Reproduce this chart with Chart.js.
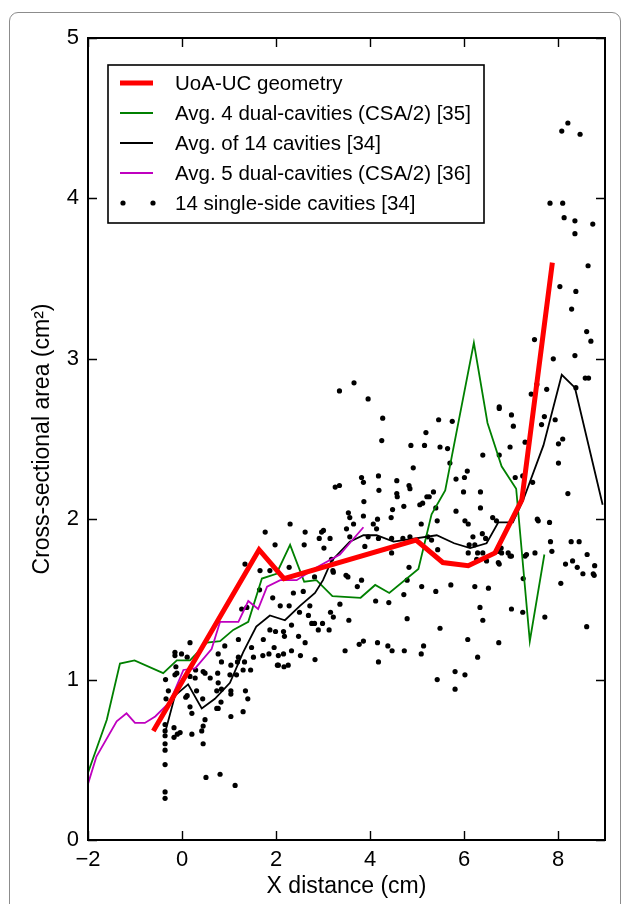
<!DOCTYPE html>
<html>
<head>
<meta charset="utf-8">
<script src="https://cdn.jsdelivr.net/npm/chart.js@4.4.1/dist/chart.umd.min.js"></script>
<style>
  html, body { margin: 0; padding: 0; background: #fff; }
  #wrap { position: relative; width: 627px; height: 904px; overflow: hidden; }
  #frame {
    position: absolute; left: 9px; top: 12px; width: 612px; height: 980px;
    border: 1.5px solid #8c8c8c; border-radius: 9px; box-sizing: border-box;
  }
  #stage { position: absolute; left: 0; top: 0; }
</style>
</head>
<body>
<div id="wrap">
  <div id="frame"></div>
  <canvas id="stage" width="627" height="904"></canvas>
</div>
<script>
// 断面積データ (cm²) と X 位置 (cm)

const xTicks = [-2, 0, 2, 4, 6, 8];
const yTicks = [0, 1, 2, 3, 4, 5];

// UoA-UC geometry
const uoaX = [-0.61, 1.64, 2.17, 4.98, 5.55, 6.09, 6.66, 7.23, 7.88];
const uoaY = [0.68, 1.81, 1.63, 1.87, 1.73, 1.71, 1.79, 2.12, 3.60];

// Avg. 4 dual-cavities (CSA/2) [35]
const dual4X = [-2.0, -1.6, -1.32, -1.01, -0.40, -0.11, 0.17, 0.53, 0.81, 1.09, 1.41, 1.70, 2.01, 2.30, 2.60, 2.86,
  3.20, 3.80, 4.11, 4.41, 5.03, 5.31, 5.60, 6.21, 6.50, 6.80, 7.11, 7.40, 7.71];
const dual4Y = [0.42, 0.75, 1.10, 1.12, 1.04, 1.12, 1.12, 1.23, 1.24, 1.31, 1.36, 1.63, 1.66, 1.84, 1.61, 1.62,
  1.52, 1.51, 1.59, 1.54, 1.69, 2.03, 2.18, 3.10, 2.60, 2.33, 2.19, 1.24, 1.78];

// Avg. of 14 cavities [34]
const avg14X = [-0.35, -0.15, 0.13, 0.42, 0.70, 1.02, 1.30, 1.58, 1.87, 2.19, 2.51, 2.83, 3.00, 3.18, 3.57, 3.86,
  4.14, 4.50, 5.42, 5.79, 6.13, 6.48, 6.73, 7.04, 7.26, 7.69, 8.08, 8.36, 8.95];
const avg14Y = [0.68, 0.90, 0.97, 0.82, 0.88, 0.98, 1.17, 1.33, 1.40, 1.37, 1.46, 1.54, 1.62, 1.74, 1.86, 1.90,
  1.90, 1.86, 1.90, 1.85, 1.82, 1.85, 1.98, 1.98, 2.12, 2.46, 2.90, 2.82, 2.09];

// Avg. 5 dual-cavities (CSA/2) [36]
const dual5X = [-2.0, -1.82, -1.39, -1.18, -1.0, -0.79, -0.57, -0.26, 0.03, 0.28, 0.63, 0.81, 1.20, 1.41, 1.62,
  1.81, 2.09, 2.44, 2.87, 3.36, 3.86];
const dual5Y = [0.35, 0.52, 0.74, 0.79, 0.73, 0.73, 0.77, 0.86, 1.06, 1.07, 1.19, 1.36, 1.36, 1.49, 1.44,
  1.58, 1.62, 1.62, 1.70, 1.78, 1.95];

// 14 single-side cavities [34]  [x, y]
const cavityXY = [
  [0.17,1.23],[-0.15,1.17],[-0.15,1.15],[-0.01,1.16],[0.11,1.14],[-0.13,1.08],[-0.11,1.04],[-0.15,1.03],
  [-0.35,1.00],[0.29,1.06],[0.45,1.05],[0.49,1.04],[0.77,1.16],[0.84,1.11],[0.91,1.21],[1.04,1.09],
  [1.20,1.25],[1.20,1.14],[1.18,1.11],[1.33,1.11],[1.48,1.20],[1.52,1.14],[1.46,1.06],[1.73,1.25],
  [1.87,1.31],[1.99,1.30],[1.96,1.20],[1.85,1.16],[2.05,1.15],[2.03,1.09],[1.72,1.15],[0.76,1.04],
  [0.60,1.01],[0.77,0.98],[0.28,1.01],[0.17,1.02],[-0.29,0.93],[-0.34,0.88],[0.11,0.90],[0.08,0.89],
  [0.17,0.83],[0.21,0.79],[0.44,0.88],[0.31,0.93],[0.74,0.93],[0.84,0.94],[0.83,0.86],[0.77,0.82],
  [0.74,0.82],[1.04,0.93],[1.04,0.91],[1.02,1.03],[1.16,1.03],[1.30,1.06],[1.35,0.93],[1.40,0.88],
  [1.30,0.80],[1.04,0.77],[0.49,0.75],[0.45,0.71],[0.42,0.68],[0.21,0.66],[-0.04,0.67],[-0.10,0.66],
  [-0.17,0.70],[-0.17,0.64],[-0.36,0.72],[-0.36,0.68],[-0.36,0.65],[-0.36,0.60],[-0.36,0.56],[-0.36,0.47],
  [-0.36,0.30],[-0.36,0.26],[0.45,0.60],[0.51,0.39],[0.81,0.41],[1.13,0.34],
  [3.35,2.21],[3.26,2.20],[3.86,2.23],[3.87,2.11],[3.54,2.04],[3.57,2.01],[3.65,1.97],[3.86,2.02],
  [3.50,1.94],[2.30,1.97],[1.77,1.92],[1.98,1.84],[2.62,1.92],[2.97,1.92],[3.01,1.93],[2.92,1.88],
  [3.15,1.88],[2.60,1.84],[3.02,1.82],[3.57,1.89],[2.28,1.70],[1.66,1.68],[1.87,1.68],[3.18,1.75],
  [3.21,1.68],[3.22,1.67],[3.49,1.65],[3.53,1.64],[3.73,1.58],[3.82,1.62],[2.82,1.64],[2.37,1.54],
  [2.58,1.55],[1.93,1.51],[1.65,1.56],[2.09,1.46],[2.28,1.46],[2.72,1.46],[2.50,1.42],[3.36,1.47],
  [3.16,1.42],[3.22,1.39],[2.69,1.40],[2.76,1.35],[2.82,1.35],[2.99,1.35],[2.90,1.31],[3.13,1.31],
  [3.55,1.37],[2.33,1.34],[2.16,1.30],[2.18,1.27],[2.48,1.27],[2.62,1.23],[2.33,1.18],[2.52,1.15],
  [2.16,1.16],[3.47,1.18],[3.86,1.24],[3.77,1.22],
  [3.35,2.80],[3.66,2.85],[3.96,2.75],[4.27,2.63],[4.25,2.49],[4.87,2.46],[5.16,2.46],[5.19,2.54],
  [4.92,2.32],[5.49,2.45],[5.65,2.44],[5.75,2.61],[5.46,2.62],[5.70,2.35],[5.83,2.25],[6.01,2.26],
  [6.07,2.30],[5.99,2.17],[6.40,2.40],[6.35,2.17],[6.35,2.07],[6.02,1.99],[6.09,1.97],[6.19,1.89],
  [6.39,1.91],[6.46,1.88],[6.29,1.79],[6.40,1.79],[6.23,1.84],[6.61,2.01],[6.69,1.99],[6.75,2.70],
  [6.75,2.69],[7.01,2.65],[7.05,2.58],[6.98,2.45],[6.75,2.40],[7.30,2.48],[7.43,2.78],[7.50,3.12],
  [7.55,2.84],[7.76,2.81],[7.65,2.59],[7.71,2.64],[7.90,3.00],[7.94,2.62],[8.01,2.47],[8.01,2.35],
  [8.10,2.50],[8.36,3.02],[8.38,2.82],[8.58,2.88],[8.65,2.88],[8.61,3.17],[8.70,3.11],[8.21,2.16],
  [7.46,2.23],[7.25,2.27],[7.09,2.26],[7.56,2.00],[7.58,1.99],[7.82,1.98],[7.84,1.86],[7.87,1.80],
  [7.51,1.79],[7.33,1.78],[7.30,1.77],[6.98,1.77],[6.94,1.79],[7.01,1.77],[6.80,1.79],[6.79,1.82],
  [6.73,1.80],[6.75,1.72],[6.73,1.73],[6.48,1.74],[6.27,1.75],[6.09,1.79],[6.11,1.84],[5.43,1.99],
  [5.83,2.05],[8.28,1.86],[8.45,1.86],[8.31,1.74],[8.41,1.70],[8.16,1.72],[8.53,1.66],[8.62,1.78],
  [8.75,1.66],[8.78,1.71],[8.77,1.65],[8.06,1.60],[8.61,1.33],[7.72,1.39],[7.25,1.42],[7.26,1.63],
  [7.01,1.44],[6.74,1.23],[6.08,1.25],[6.29,1.14],[6.34,1.45],[6.40,1.37],[6.23,1.58],[6.52,1.57],
  [6.02,1.03],[5.81,1.05],[5.81,0.94],[5.43,1.00],[5.49,1.32],[5.72,1.59],[5.14,1.21],[5.09,1.16],
  [5.40,1.55],[5.10,1.58],[4.79,1.38],[4.73,1.18],[4.72,1.53],[4.47,1.18],[4.38,1.21],[4.18,1.11],
  [4.16,1.23],[4.12,1.49],[4.40,1.48],[4.83,1.70],[4.79,1.62],[4.46,1.79],[4.46,1.88],[4.70,1.88],
  [4.85,1.89],[5.31,1.87],[5.44,1.81],[5.23,1.89],[5.09,1.97],[5.06,2.09],[5.12,2.10],[5.40,2.07],
  [5.35,2.17],[5.26,2.14],[5.21,2.14],[4.83,2.21],[4.85,2.19],[4.72,2.08],[4.57,2.16],[4.58,2.14],
  [4.57,2.24],[4.48,2.06],[4.45,2.01],[4.18,2.27],[4.19,2.18],[4.16,2.00],[4.14,1.94],[4.07,1.97],
  [3.82,2.26],[3.96,1.89],[3.89,1.83],[4.18,1.88],
  [8.21,4.47],[8.08,4.42],[8.47,4.40],[7.83,3.97],[8.10,3.97],[8.13,3.88],[8.36,3.86],[8.74,3.84],
  [8.36,3.78],[8.64,3.58],[8.04,3.45],[8.38,3.42],[8.29,3.31],
  [2.05,1.09],[2.17,1.08],[2.26,1.09],[2.83,1.125],[1.34,1.72],[1.38,1.45],[1.27,1.44]
];

const FONT = '"Liberation Sans", Arial, Helvetica, sans-serif';

function toPoints(xs, ys) {
  return xs.map((x, i) => ({ x: x, y: ys[i] }));
}

function fmt(v) {
  return v < 0 ? '\u2212' + Math.abs(v) : String(v);
}

function lineSet(label, xs, ys, color, width, order) {
  return {
    type: 'line',
    label: label,
    data: toPoints(xs, ys),
    borderColor: color,
    backgroundColor: color,
    borderWidth: width,
    pointRadius: 0,
    fill: false,
    tension: 0,
    order: order
  };
}

// 内向きの目盛りと枠線
const axesBox = {
  id: 'axesBox',
  afterDatasetsDraw(chart) {
    const { ctx, chartArea: a, scales: { x, y } } = chart;
    ctx.save();
    ctx.strokeStyle = '#000';
    ctx.lineWidth = 1.4;
    ctx.beginPath();
    xTicks.forEach(v => {
      const px = Math.round(x.getPixelForValue(v)) + 0.5;
      ctx.moveTo(px, a.bottom); ctx.lineTo(px, a.bottom - 9);
      ctx.moveTo(px, a.top); ctx.lineTo(px, a.top + 9);
    });
    yTicks.forEach(v => {
      const py = Math.round(y.getPixelForValue(v)) + 0.5;
      ctx.moveTo(a.left, py); ctx.lineTo(a.left + 9, py);
      ctx.moveTo(a.right, py); ctx.lineTo(a.right - 9, py);
    });
    ctx.stroke();
    ctx.lineWidth = 2;
    ctx.strokeRect(a.left, a.top, a.right - a.left, a.bottom - a.top);
    ctx.restore();
  }
};

// 凡例（プロット内左上）
const legendBox = {
  id: 'legendBox',
  afterDraw(chart) {
    const { ctx, chartArea: a } = chart;
    const left = a.left + 20, top = a.top + 27, w = 376, h = 158;
    ctx.save();
    ctx.fillStyle = '#fff';
    ctx.fillRect(left, top, w, h);
    ctx.strokeStyle = '#000';
    ctx.lineWidth = 1.6;
    ctx.strokeRect(left, top, w, h);
    ctx.font = '20.5px ' + FONT;
    ctx.textBaseline = 'middle';
    chart.data.datasets.forEach((ds, i) => {
      const cy = top + 18 + i * 30;
      if (ds.type === 'scatter') {
        ctx.fillStyle = ds.backgroundColor;
        [left + 15, left + 45].forEach(cx => {
          ctx.beginPath();
          ctx.arc(cx, cy, ds.pointRadius, 0, Math.PI * 2);
          ctx.fill();
        });
      } else {
        ctx.strokeStyle = ds.borderColor;
        ctx.lineWidth = ds.borderWidth;
        ctx.beginPath();
        ctx.moveTo(left + 12, cy);
        ctx.lineTo(left + 45, cy);
        ctx.stroke();
      }
      ctx.fillStyle = '#000';
      ctx.fillText(ds.label, left + 67, cy + 1);
    });
    ctx.restore();
  }
};

const data = {
  datasets: [
    lineSet('UoA-UC geometry', uoaX, uoaY, '#ff0000', 5, 0),
    lineSet('Avg. 4 dual-cavities (CSA/2) [35]', dual4X, dual4Y, '#008000', 1.8, 3),
    lineSet('Avg. of 14 cavities [34]', avg14X, avg14Y, '#000000', 1.8, 2),
    lineSet('Avg. 5 dual-cavities (CSA/2) [36]', dual5X, dual5Y, '#bf00bf', 1.8, 1),
    {
      type: 'scatter',
      label: '14 single-side cavities [34]',
      data: cavityXY.map(p => ({ x: p[0], y: p[1] })),
      backgroundColor: '#000',
      borderWidth: 0,
      pointRadius: 2.6,
      showLine: false,
      order: 4
    }
  ]
};

const config = {
  type: 'scatter',
  data: data,
  options: {
    responsive: false,
    animation: false,
    devicePixelRatio: 1,
    layout: { padding: { left: 0, right: 22, top: 38, bottom: 0 } },
    plugins: { legend: { display: false }, tooltip: { enabled: false } },
    scales: {
      x: {
        type: 'linear',
        min: -2,
        max: 9,
        afterBuildTicks: s => { s.ticks = xTicks.map(v => ({ value: v })); },
        afterFit: s => { s.height = 64; },
        grid: { display: false, drawTicks: false },
        border: { display: false },
        ticks: { color: '#000', font: { family: FONT, size: 22 }, padding: 7, maxRotation: 0, callback: v => fmt(v) },
        title: { display: true, text: 'X distance (cm)', color: '#000', font: { family: FONT, size: 23 }, padding: { top: 0, bottom: 4 } }
      },
      y: {
        type: 'linear',
        min: 0,
        max: 5,
        afterBuildTicks: s => { s.ticks = yTicks.map(v => ({ value: v })); },
        afterFit: s => { s.width = 88; },
        grid: { display: false, drawTicks: false },
        border: { display: false },
        ticks: { color: '#000', font: { family: FONT, size: 22 }, padding: 9, callback: v => fmt(v) },
        title: { display: true, text: 'Cross-sectional area (cm²)', color: '#000', font: { family: FONT, size: 23 }, padding: { top: 29, bottom: 0 } }
      }
    }
  },
  plugins: [axesBox, legendBox]
};

const myChart = new Chart(document.getElementById('stage').getContext('2d'), config);
</script>
</body>
</html>
